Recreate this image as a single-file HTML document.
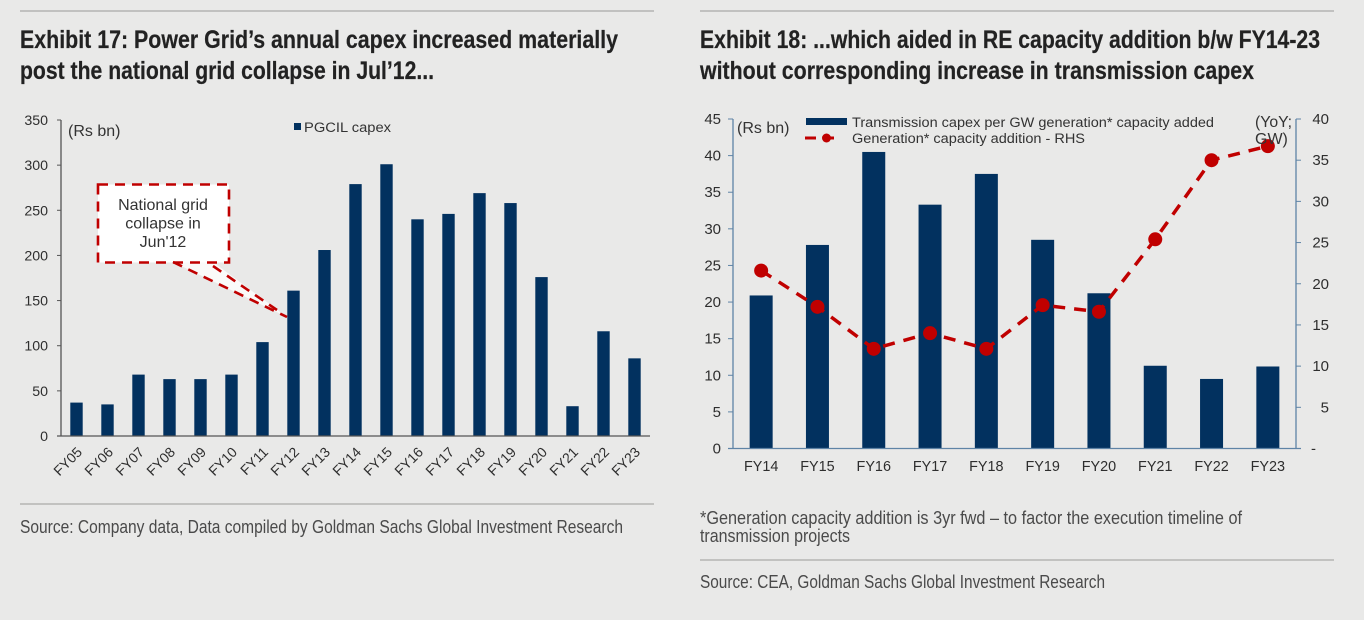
<!DOCTYPE html>
<html>
<head>
<meta charset="utf-8">
<style>
html,body{margin:0;padding:0;background:#e9e9e8;}
svg{display:block;font-family:"Liberation Sans",Arial,sans-serif;}
.title{font-family:"Liberation Sans Narrow","Liberation Sans",sans-serif;font-weight:700;font-size:25px;fill:#222;stroke:#222;stroke-width:0.2px;}
.note{font-family:"Liberation Sans Narrow","Liberation Sans",sans-serif;font-size:18px;fill:#4a4a4a;}
.tick{font-size:14.2px;fill:#2e2e2e;}
.tickr{font-size:15px;fill:#2e2e2e;}
.xt{font-size:14.4px;fill:#2e2e2e;}
.xr{font-size:14px;fill:#2e2e2e;}
.lbl{font-size:16px;fill:#333;}
.leg{font-size:14.2px;fill:#333;}
</style>
</head>
<body>
<svg id="root" xmlns="http://www.w3.org/2000/svg" width="1364" height="620" viewBox="0 0 1364 620">
  <rect width="1364" height="620" fill="#e9e9e8"/>

  <line x1="20" y1="11" x2="654" y2="11" stroke="#b4b4b2" stroke-width="1.5"/>
  <text class="title" x="20" y="48" textLength="598" lengthAdjust="spacingAndGlyphs">Exhibit 17: Power Grid’s annual capex increased materially</text>
  <text class="title" x="20" y="79" textLength="414" lengthAdjust="spacingAndGlyphs">post the national grid collapse in Jul’12...</text>
  <line x1="20" y1="504" x2="654" y2="504" stroke="#9a9a98" stroke-width="1"/>
  <text class="note" x="20" y="533" textLength="603" lengthAdjust="spacingAndGlyphs">Source: Company data, Data compiled by Goldman Sachs Global Investment Research</text>

  <line x1="700" y1="11" x2="1334" y2="11" stroke="#b4b4b2" stroke-width="1.5"/>
  <text class="title" x="700" y="48" textLength="620" lengthAdjust="spacingAndGlyphs">Exhibit 18: ...which aided in RE capacity addition b/w FY14-23</text>
  <text class="title" x="700" y="79" textLength="554" lengthAdjust="spacingAndGlyphs">without corresponding increase in transmission capex</text>
  <text class="note" x="700" y="524" textLength="542" lengthAdjust="spacingAndGlyphs">*Generation capacity addition is 3yr fwd – to factor the execution timeline of</text>
  <text class="note" x="700" y="542" textLength="150" lengthAdjust="spacingAndGlyphs">transmission projects</text>
  <line x1="700" y1="560" x2="1334" y2="560" stroke="#9a9a98" stroke-width="1"/>
  <text class="note" x="700" y="588" textLength="405" lengthAdjust="spacingAndGlyphs">Source: CEA, Goldman Sachs Global Investment Research</text>

  <g id="chart-left"></g>
  <g id="chart-right"></g>

  <g>
    <polygon points="173,262 287,317 213,262" fill="#ffffff" opacity="0.75"/>
    <rect x="98" y="184.500" width="131" height="78" fill="#ffffff" stroke="#c00000" stroke-width="2.600" stroke-dasharray="10 7"/>
    <line x1="173" y1="262" x2="287" y2="317" stroke="#c00000" stroke-width="2.600" stroke-dasharray="10 7"/>
    <line x1="213" y1="266" x2="277" y2="310" stroke="#c00000" stroke-width="2.600" stroke-dasharray="10 7"/>
    <text class="lbl" x="163" y="210" text-anchor="middle">National grid</text>
    <text class="lbl" x="163" y="228.500" text-anchor="middle">collapse in</text>
    <text class="lbl" x="163" y="247" text-anchor="middle">Jun'12</text>
  </g>
</svg>
<script>
var leftCategories = ["FY05","FY06","FY07","FY08","FY09","FY10","FY11","FY12","FY13","FY14","FY15","FY16","FY17","FY18","FY19","FY20","FY21","FY22","FY23"];
var leftCapex = [37,35,68,63,63,68,104,161,206,279,301,240,246,269,258,176,33,116,86];
var leftTicks = [0,50,100,150,200,250,300,350];

var rightCategories = ["FY14","FY15","FY16","FY17","FY18","FY19","FY20","FY21","FY22","FY23"];
var transmissionCapex = [20.9,27.8,40.5,33.3,37.5,28.5,21.2,11.3,9.5,11.2];
var generationAddition = [21.6,17.2,12.1,14.0,12.1,17.4,16.6,25.4,35.0,36.7];
var rightLeftTicks = [0,5,10,15,20,25,30,35,40,45];
var rightRightTicks = [5,10,15,20,25,30,35,40];

var NS = "http://www.w3.org/2000/svg";
var NAVY = "#02315f";
var RED = "#c00000";

function mk(parent, tag, props, text) {
  var el = document.createElementNS(NS, tag);
  for (var k in props) { el.setAttribute(k, props[k]); }
  if (text !== undefined) { el.textContent = text; }
  parent.appendChild(el);
  return el;
}

/* ---------- Left chart ---------- */
var gL = document.getElementById("chart-left");
var lx0 = 61, lx1 = 650, ly0 = 436, lyTop = 120, lMax = 350;
function lxScale(i) { return lx0 + (lx1 - lx0) * (i + 0.5) / leftCategories.length; }
function lyScale(v) { return ly0 - (ly0 - lyTop) * v / lMax; }

leftCapex.forEach(function (v, i) {
  var r = mk(gL, "rect", {x: lxScale(i) - 6.2, y: lyScale(v), width: 12.4, height: ly0 - lyScale(v), fill: NAVY});
  
  
});

var lAxisY = mk(gL, "line", {x1: lx0, y1: lyTop, x2: lx0, y2: ly0, stroke: "#555", "stroke-width": 1.3});


var lAxisX = mk(gL, "line", {x1: 57, y1: ly0, x2: lx1, y2: ly0, stroke: "#555", "stroke-width": 1.3});



leftTicks.forEach(function (v) {
  var y = lyScale(v);
  var tm = mk(gL, "line", {x1: 57, y1: y, x2: lx0, y2: y, stroke: "#555", "stroke-width": 1});
  
  
  var t = mk(gL, "text", {"class": "tick", x: 48, y: y + 5, "text-anchor": "end"}, String(v));
  
  
});

leftCategories.forEach(function (c, i) {
  var x = lxScale(i) + 6.5, y = 453;
  var t = mk(gL, "text", {"class": "xr", x: x, y: y, "text-anchor": "end", transform: "rotate(-45 " + x + " " + y + ")"}, c);
  
  
});

var lUnit = mk(gL, "text", {"class": "lbl", x: 68, y: 136}, "(Rs bn)");


var lKey = mk(gL, "rect", {x: 294, y: 123, width: 7, height: 7, fill: NAVY});


var lLeg = mk(gL, "text", {"class": "leg", x: 304, y: 132, textLength: 87, lengthAdjust: "spacingAndGlyphs"}, "PGCIL capex");



/* ---------- Right chart ---------- */
var gR = document.getElementById("chart-right");
var rx0 = 733, rx1 = 1296, ry0 = 448.500, ryTop = 119, rMaxL = 45, rMaxR = 40;
function rxScale(i) { return rx0 + (rx1 - rx0) * (i + 0.5) / rightCategories.length; }
function ryLeft(v) { return ry0 - (ry0 - ryTop) * v / rMaxL; }
function ryRight(v) { return ry0 - (ry0 - ryTop) * v / rMaxR; }

transmissionCapex.forEach(function (v, i) {
  var r = mk(gR, "rect", {x: rxScale(i) - 11.500, y: ryLeft(v), width: 23, height: ry0 - ryLeft(v), fill: NAVY});
  
  
});

var AX = "#5f84a6";
var rAxisL = mk(gR, "line", {x1: rx0, y1: ryTop, x2: rx0, y2: ry0, stroke: AX, "stroke-width": 1.3});


var rAxisR = mk(gR, "line", {x1: rx1, y1: ryTop, x2: rx1, y2: ry0, stroke: AX, "stroke-width": 1.3});


var rAxisX = mk(gR, "line", {x1: 728, y1: ry0, x2: rx1 + 5, y2: ry0, stroke: AX, "stroke-width": 1.3});



rightLeftTicks.forEach(function (v) {
  var y = ryLeft(v);
  var tm = mk(gR, "line", {x1: 728, y1: y, x2: rx0, y2: y, stroke: AX, "stroke-width": 1});
  
  
  var t = mk(gR, "text", {"class": "tickr", x: 721, y: y + 5, "text-anchor": "end"}, String(v));
  
  
});

rightRightTicks.forEach(function (v) {
  var y = ryRight(v);
  var tm = mk(gR, "line", {x1: rx1, y1: y, x2: rx1 + 5, y2: y, stroke: AX, "stroke-width": 1});
  
  
  var t = mk(gR, "text", {"class": "tickr", x: 1329, y: y + 5, "text-anchor": "end"}, String(v));
  
  
});
var rZero = mk(gR, "text", {"class": "tickr", x: 1316, y: ry0 + 5, "text-anchor": "end"}, "-");



rightCategories.forEach(function (c, i) {
  var t = mk(gR, "text", {"class": "xt", x: rxScale(i), y: 471, "text-anchor": "middle"}, c);
  
  
});

var pts = generationAddition.map(function (v, i) { return rxScale(i) + "," + ryRight(v); }).join(" ");
var genLine = mk(gR, "polyline", {points: pts, fill: "none", stroke: RED, "stroke-width": 3.5, "stroke-dasharray": "12 9"});



generationAddition.forEach(function (v, i) {
  var c = mk(gR, "circle", {cx: rxScale(i), cy: ryRight(v), r: 7, fill: RED});
  
  
});

var rUnit = mk(gR, "text", {"class": "lbl", x: 737, y: 133}, "(Rs bn)");


var rUnitA = mk(gR, "text", {"class": "lbl", x: 1255, y: 127, textLength: 37, lengthAdjust: "spacingAndGlyphs"}, "(YoY;");


var rUnitB = mk(gR, "text", {"class": "lbl", x: 1255, y: 144}, "GW)");



var k1 = mk(gR, "rect", {x: 806, y: 118, width: 41, height: 7, fill: NAVY});


var k1t = mk(gR, "text", {"class": "leg", x: 852, y: 127, textLength: 362, lengthAdjust: "spacingAndGlyphs"}, "Transmission capex per GW generation* capacity added");


var k2 = mk(gR, "line", {x1: 805, y1: 138, x2: 841, y2: 138, stroke: RED, "stroke-width": 3, "stroke-dasharray": "11 7"});


var k2c = mk(gR, "circle", {cx: 826.5, cy: 138, r: 4.5, fill: RED});


var k2t = mk(gR, "text", {"class": "leg", x: 852, y: 143, textLength: 233, lengthAdjust: "spacingAndGlyphs"}, "Generation* capacity addition - RHS");


</script>
</body>
</html>
